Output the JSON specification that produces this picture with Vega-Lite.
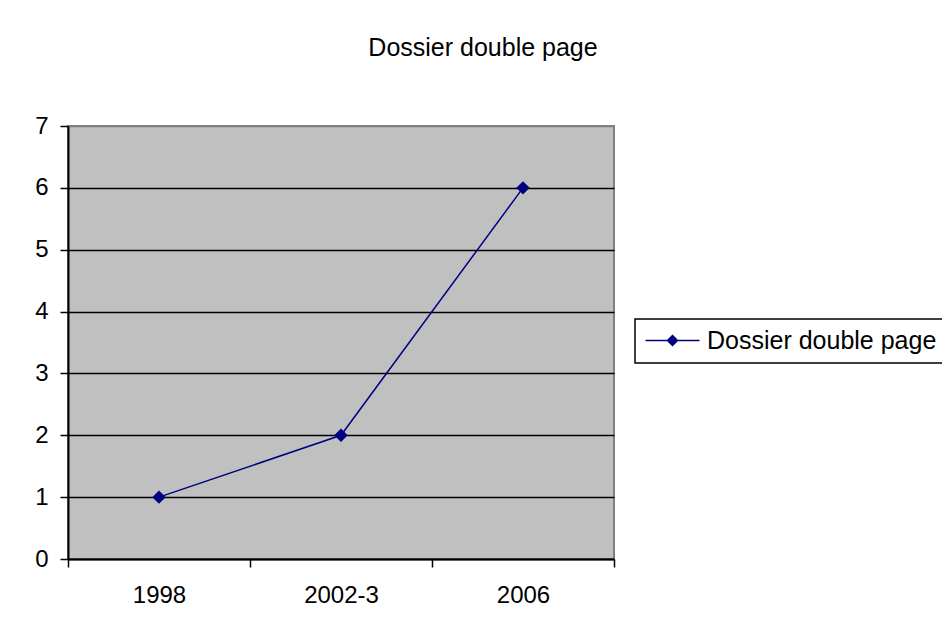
{
  "$schema": "https://vega.github.io/schema/vega-lite/v6.json",
  "autosize": "none",
  "width": 546,
  "height": 433,
  "padding": {"left": 68, "top": 126, "right": 328, "bottom": 73},
  "background": "white",
  "title": {
    "text": "Dossier double page",
    "anchor": "middle",
    "frame": "group",
    "dx": 142,
    "offset": 33,
    "baseline": "alphabetic",
    "font": "Liberation Sans",
    "fontSize": 25,
    "fontWeight": "normal",
    "color": "black"
  },
  "config": {
    "font": "Liberation Sans",
    "view": {"fill": "#C0C0C0", "stroke": "#808080", "strokeWidth": 2},
    "axis": {
      "labelFont": "Liberation Sans",
      "labelFontSize": 24,
      "labelColor": "black",
      "domainColor": "black",
      "domainWidth": 2,
      "tickColor": "black",
      "tickWidth": 1.5,
      "tickSize": 8,
      "title": null
    }
  },
  "data": {
    "values": [
      {"year": "1998", "value": 1, "series": "Dossier double page"},
      {"year": "2002-3", "value": 2, "series": "Dossier double page"},
      {"year": "2006", "value": 6, "series": "Dossier double page"}
    ]
  },
  "encoding": {
    "x": {
      "field": "year",
      "type": "nominal",
      "sort": null,
      "scale": {"type": "band", "paddingInner": 0, "paddingOuter": 0},
      "axis": {"labelAngle": 0, "tickBand": "extent", "labelPadding": 16, "grid": false}
    },
    "y": {
      "field": "value",
      "type": "quantitative",
      "scale": {"domain": [0, 7], "nice": false},
      "axis": {
        "values": [0, 1, 2, 3, 4, 5, 6, 7],
        "grid": true,
        "gridColor": {"condition": {"test": "datum.value == 7", "value": "#808080"}, "value": "black"},
        "gridWidth": 1.5,
        "labelPadding": 12
      }
    },
    "color": {
      "field": "series",
      "type": "nominal",
      "scale": {"range": ["#000080"]},
      "legend": {
        "title": null,
        "orient": "none",
        "legendX": 567,
        "legendY": 193,
        "padding": 9,
        "strokeColor": "black",
        "fillColor": "white",
        "cornerRadius": 0,
        "labelFont": "Liberation Sans",
        "labelFontSize": 25,
        "labelColor": "black",
        "labelLimit": 500,
        "labelOffset": 38,
        "symbolSize": 400,
        "symbolType": "M-1.1,0H4.3M1.6,-0.5L2.1,0L1.6,0.5L1.1,0Z",
        "encode": {
          "symbols": {
            "update": {
              "fill": {"value": "#000080"},
              "stroke": {"value": "#000080"},
              "strokeWidth": {"value": 1.5},
              "opacity": {"value": 1}
            }
          },
          "legend": {"update": {"strokeWidth": {"value": 1.5}}}
        }
      }
    }
  },
  "layer": [
    {"mark": {"type": "line", "strokeWidth": 1.5}},
    {"mark": {"type": "point", "shape": "diamond", "filled": true, "size": 180, "opacity": 1}}
  ]
}
